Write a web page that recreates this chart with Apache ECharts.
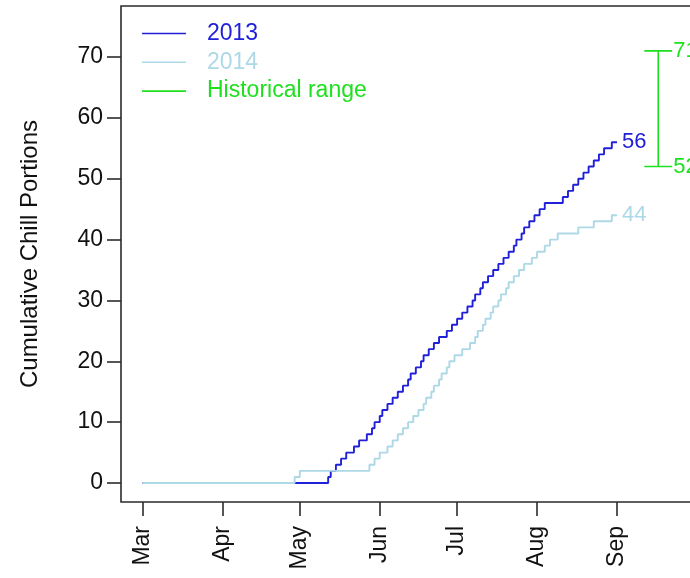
<!DOCTYPE html>
<html>
<head>
<meta charset="utf-8">
<script src="https://cdn.jsdelivr.net/npm/echarts@6.0.0/dist/echarts.min.js"></script>
<style>
  html, body { margin: 0; padding: 0; background: #fff; }
  #chillChart { width: 690px; height: 578px; }
</style>
</head>
<body>
<div id="chillChart"></div>
<script>
// days after 1 March on which one more chill portion was completed
var steps2013 = [72, 73, 75, 77, 79, 82, 84, 87, 89, 90, 92, 93, 95, 97, 99, 101, 103, 104, 106, 108,
  109, 111, 113, 115, 118, 120, 122, 124, 126, 128, 129, 131, 132, 134, 136, 138, 140, 142, 144, 145,
  147, 148, 150, 152, 154, 156, 163, 165, 167, 169, 171, 173, 175, 177, 179, 182];
var steps2014 = [59, 61, 88, 90, 92, 95, 97, 99, 101, 103, 105, 107, 109, 110, 112, 113, 115, 116, 118, 119,
  121, 124, 127, 129, 130, 132, 133, 135, 136, 138, 139, 141, 142, 144, 146, 148, 151, 153, 156, 158,
  161, 169, 175, 182];
var lastDay = 184;

var monthDays = [0, 31, 61, 92, 122, 153, 184];
var monthNames = ['Mar', 'Apr', 'May', 'Jun', 'Jul', 'Aug', 'Sep'];
var yTicks = [0, 10, 20, 30, 40, 50, 60, 70];

var histRange = [52, 71];
var histDay = 200;
var histCap = 5.4;

var blue = '#2020d8';
var lightBlue = '#add8e6';
var green = '#1ee01e';
var font = 'Liberation Sans, Arial, sans-serif';

function stairs(days) {
  var pts = [[0, 0]];
  for (var i = 0; i < days.length; i++) {
    pts.push([days[i], i + 1]);
  }
  pts.push([lastDay, days.length]);
  return pts;
}

function endLabel(color) {
  return {
    show: true,
    formatter: function (p) { return p.value[1]; },
    color: color,
    fontSize: 22,
    fontFamily: font,
    distance: 5
  };
}

var histData = [
  [histDay - histCap, histRange[1]],
  { value: [histDay + histCap, histRange[1]], label: { show: true, formatter: String(histRange[1]) } },
  [histDay, histRange[1]],
  [histDay, histRange[0]],
  [histDay - histCap, histRange[0]],
  { value: [histDay + histCap, histRange[0]], label: { show: true, formatter: String(histRange[0]) } }
];

var option = {
  animation: false,
  backgroundColor: '#fff',
  grid: {
    left: 121, top: 6, width: 579, height: 496,
    show: true, borderColor: '#2b2b2b', borderWidth: 1.6,
    containLabel: false, outerBoundsMode: 'none'
  },
  legend: {
    orient: 'vertical',
    left: 137, top: 17,
    itemWidth: 44, itemHeight: 1.6, itemGap: 5.8,
    icon: 'rect',
    textStyle: { fontSize: 23, fontFamily: font, padding: [0, 0, 0, 16] },
    data: [
      { name: '2013', textStyle: { color: blue } },
      { name: '2014', textStyle: { color: lightBlue } },
      { name: 'Historical range', textStyle: { color: green } }
    ]
  },
  xAxis: {
    type: 'value',
    min: -8.34, max: 216.2,
    axisLine: { show: false, onZero: false },
    splitLine: { show: false },
    axisTick: { show: true, length: 14, customValues: monthDays, lineStyle: { color: '#2b2b2b', width: 1.6 } },
    axisLabel: {
      customValues: monthDays,
      rotate: 90, margin: 24,
      fontSize: 23, fontFamily: font, color: '#111',
      formatter: function (v) { return monthNames[monthDays.indexOf(v)]; }
    }
  },
  yAxis: {
    type: 'value',
    min: -3.12, max: 78.38,
    name: 'Cumulative Chill Portions',
    nameLocation: 'middle', nameGap: 79,
    nameTextStyle: { fontSize: 24, fontFamily: font, color: '#111' },
    axisLine: { show: false, onZero: false },
    splitLine: { show: false },
    axisTick: { show: true, length: 14, customValues: yTicks, lineStyle: { color: '#2b2b2b', width: 1.6 } },
    axisLabel: { customValues: yTicks, margin: 18, fontSize: 23, fontFamily: font, color: '#111' }
  },
  series: [
    {
      name: '2013', type: 'line', step: 'end', symbol: 'none',
      data: stairs(steps2013),
      itemStyle: { color: blue },
      lineStyle: { color: blue, width: 1.9 },
      endLabel: endLabel(blue)
    },
    {
      name: '2014', type: 'line', step: 'end', symbol: 'none',
      data: stairs(steps2014),
      itemStyle: { color: lightBlue },
      lineStyle: { color: lightBlue, width: 1.9 },
      endLabel: endLabel(lightBlue)
    },
    {
      name: 'Historical range', type: 'line',
      symbol: 'circle', symbolSize: 0, showSymbol: true,
      data: histData,
      itemStyle: { color: green },
      lineStyle: { color: green, width: 1.6 },
      label: { show: false, position: 'right', distance: 1, color: green, fontSize: 22, fontFamily: font }
    }
  ]
};

var chart = echarts.init(document.getElementById('chillChart'));
chart.setOption(option);
</script>
</body>
</html>
